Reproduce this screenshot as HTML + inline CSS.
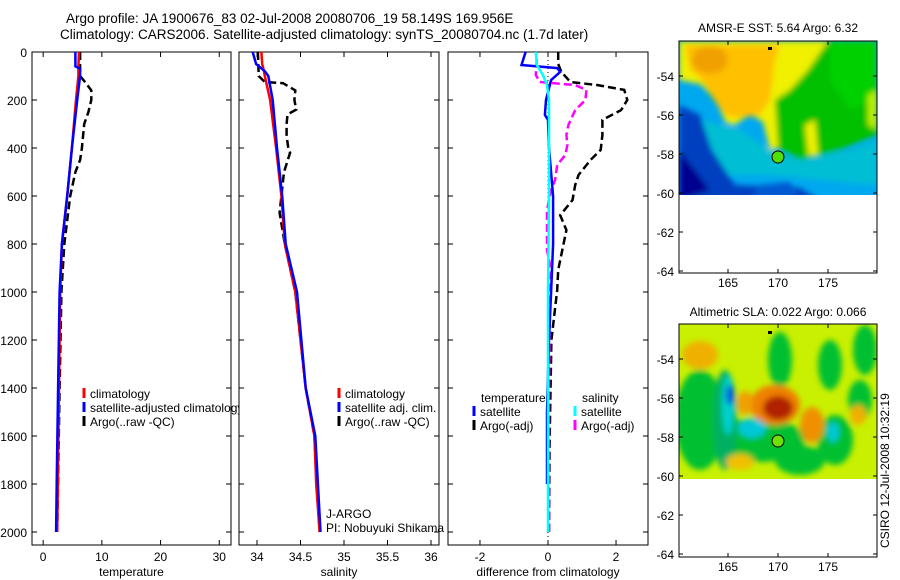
<!DOCTYPE html>
<html><head><meta charset="utf-8"><style>
html,body{margin:0;padding:0;background:#fff;}
svg{display:block;font-family:"Liberation Sans",sans-serif;}
text{fill:#000;}
</style></head><body>
<svg id="chart" width="900" height="580" viewBox="0 0 900 580" xmlns="http://www.w3.org/2000/svg">
<defs>
<filter id="bl" x="-20%" y="-20%" width="140%" height="140%"><feGaussianBlur stdDeviation="3"/></filter>
<clipPath id="c1"><rect x="679" y="41" width="198" height="154"/></clipPath>
<clipPath id="c2"><rect x="679" y="324" width="198" height="155"/></clipPath>
</defs>
<text x="66" y="23" font-size="13.5">Argo profile: JA 1900676_83 02-Jul-2008 20080706_19 58.149S 169.956E</text>
<text x="60" y="39" font-size="13.5">Climatology: CARS2006. Satellite-adjusted climatology: synTS_20080704.nc (1.7d later)</text>

<g>
<text x="778" y="32" font-size="12" text-anchor="middle">AMSR-E SST: 5.64 Argo: 6.32</text>
<g clip-path="url(#c1)">
<rect x="679" y="41" width="198" height="154" fill="#00a8f0"/>
<g filter="url(#bl)">
<polygon fill="#00c8c8" points="700,120 740,130 770,150 800,160 850,150 877,140 877,185 820,180 770,175 720,175" opacity="0.7"/>
<polygon fill="#0040c0" points="679,105 700,115 712,150 735,185 800,188 820,200 679,200"/>
<polygon fill="#000090" points="679,150 695,170 710,190 679,200"/>
<polygon fill="#0058d0" points="760,185 790,182 800,200 750,200"/>
<polygon fill="#00c000" points="679,75 700,80 712,98 730,122 748,112 768,115 778,148 800,160 840,150 877,135 877,41 820,41 800,70 785,90"/>
<polygon fill="#f0f000" points="679,41 828,41 808,70 790,90 775,100 778,148 770,150 763,122 750,114 735,125 726,123 715,98 700,84 679,80"/>
<polygon fill="#ffc000" points="685,45 780,45 775,60 770,100 760,115 735,118 725,115 712,95 700,78 690,70"/>
<ellipse cx="710" cy="60" rx="18" ry="14" fill="#f0a000"/>
<polygon fill="#f0f000" points="805,125 815,120 818,155 808,155"/>
<polygon fill="#00d000" points="830,41 877,41 877,100 850,110 830,80"/>
<polygon fill="#c0f000" points="868,95 877,90 877,130 868,125"/>
</g>
</g>
<rect x="679" y="41" width="198" height="232" fill="none" stroke="#000" stroke-width="1"/>
<g id="map1ax"></g>
<circle cx="778" cy="157" r="6" fill="#50e000" stroke="#000" stroke-width="1"/>
<rect x="768" y="47" width="4" height="3" fill="#000"/>
</g>

<g>
<text x="778" y="316" font-size="12" text-anchor="middle">Altimetric SLA: 0.022 Argo: 0.066</text>
<g clip-path="url(#c2)">
<rect x="679" y="324" width="198" height="155" fill="#c8f000"/>
<g filter="url(#bl)">
<ellipse cx="700" cy="420" rx="25" ry="50" fill="#00c030"/>
<ellipse cx="780" cy="360" rx="12" ry="28" fill="#00c030"/>
<ellipse cx="830" cy="365" rx="12" ry="25" fill="#00c030"/>
<ellipse cx="865" cy="350" rx="12" ry="25" fill="#00c030"/>
<ellipse cx="860" cy="400" rx="12" ry="20" fill="#00c030"/>
<ellipse cx="760" cy="440" rx="45" ry="22" fill="#00c030"/>
<ellipse cx="800" cy="460" rx="25" ry="15" fill="#00c030"/>
<ellipse cx="835" cy="440" rx="18" ry="25" fill="#00c030"/>
<ellipse cx="725" cy="420" rx="12" ry="50" fill="#00b060"/>
<ellipse cx="728" cy="405" rx="6" ry="30" fill="#00d0d0"/>
<ellipse cx="730" cy="395" rx="4" ry="10" fill="#0050e0"/>
<ellipse cx="752" cy="428" rx="14" ry="10" fill="#00c8d8"/>
<ellipse cx="833" cy="432" rx="6" ry="10" fill="#00c8d8"/>
<ellipse cx="775" cy="405" rx="25" ry="20" fill="#f08000"/>
<ellipse cx="778" cy="408" rx="15" ry="12" fill="#b02000"/>
<ellipse cx="812" cy="425" rx="12" ry="18" fill="#f09000"/>
<ellipse cx="745" cy="403" rx="8" ry="12" fill="#f0a000"/>
<ellipse cx="700" cy="355" rx="18" ry="14" fill="#f0b000"/>
<ellipse cx="858" cy="415" rx="8" ry="10" fill="#f0b000"/>
<ellipse cx="740" cy="462" rx="14" ry="8" fill="#f0c000"/>
</g>
</g>
<rect x="679" y="324" width="198" height="233" fill="none" stroke="#000" stroke-width="1"/>
<g id="map2ax"></g>
<circle cx="778" cy="441" r="6" fill="#70e000" stroke="#000" stroke-width="1"/>
<rect x="768" y="331" width="4" height="3" fill="#000"/>
</g>
<text transform="translate(889,548) rotate(-90)" font-size="12">CSIRO 12-Jul-2008 10:32:19</text>

<g id="p1"></g><g id="p2"></g><g id="p3"></g>
</svg>
<script>
// depth levels (m) per series
const tDepth = [0,60,70,100,200,400,600,800,1000,1400,1800,2000];
const tClim = [6.1,6.0,6.0,6.0,5.6,4.9,4.1,3.2,2.9,2.7,2.5,2.4];
const tSat = [5.5,5.5,6.3,6.3,5.8,4.9,4.1,3.2,2.8,2.55,2.3,2.2];
const argoDepth = [0,100,130,160,200,250,300,400,450,500,600,800,1000,1400,2000];
const tArgo = [6.3,6.3,7.3,8.2,8.2,7.7,7.0,6.6,6.3,5.5,4.6,3.6,3.1,2.8,2.4];
const sDepth = [0,50,80,100,200,400,600,800,1000,1400,1600,1800,2000];
const sClim = [34.05,34.06,34.08,34.09,34.15,34.22,34.28,34.32,34.44,34.56,34.66,34.68,34.72];
const sSat = [33.95,33.99,34.09,34.13,34.18,34.23,34.29,34.33,34.46,34.56,34.67,34.70,34.73];
const sArgoDepth = [0,100,125,130,160,200,240,260,300,350,400,420,500,600,670,800,1000,1400,1600,2000];
const sArgo = [34.01,34.02,34.09,34.30,34.44,34.43,34.45,34.35,34.34,34.34,34.36,34.38,34.31,34.28,34.26,34.32,34.44,34.56,34.66,34.72];
const dDepth = [0,54,67,83,117,200,262,283,400,600,800,1000,1200,1500,1800];
const dTSat = [-0.66,-0.78,0.27,0.36,0.09,-0.06,-0.09,0,0.03,0.15,0.15,0.09,0.03,-0.03,-0.03];
const dArgoDepth = [0,50,83,125,138,158,200,242,283,346,408,450,512,554,617,680,742,825,908,992,1200,1600,2000];
const dTArgo = [0.3,0.3,0.39,0.66,1.46,2.24,2.33,2.15,1.6,1.6,1.55,1.25,0.9,0.8,0.72,0.36,0.54,0.42,0.3,0.27,0.1,0.05,0.03];
const dSSatDepth = [0,54,96,138,200,600,1000,1500,2000];
const dSSat = [-0.36,-0.33,-0.15,-0.03,0.03,0.03,0.0,0.0,0.0];
const dSArgoDepth = [30,96,125,138,158,200,242,304,346,387,429,471,533,575,658,742,825,908,1033,1400,2000];
const dSArgo = [-0.33,-0.36,-0.24,0.8,1.13,1.1,0.8,0.6,0.54,0.57,0.51,0.27,0.21,0.09,-0.03,-0.03,-0.03,0.09,0.06,0.03,0.03];
const depthTicks = [0,200,400,600,800,1000,1200,1400,1600,1800,2000];
const tTicks = [0,10,20,30];
const sTicks = [34,34.5,35,35.5,36];
const sTickLabels = ['34','34.5','35','35.5','36'];
const dTicks = [-2,0,2];
const latTicks = [-54,-56,-58,-60,-62,-64];
const lonTicks = [165,170,175];

const NS='http://www.w3.org/2000/svg';
const Y0=52, Y1=545;
const yD = d => 52 + d*0.24;
function mk(tag, parent, attrs){const e=document.createElementNS(NS,tag);for(const k in attrs)e.setAttribute(k,attrs[k]);parent.appendChild(e);return e;}

function panel(gid, name, x0, x1, vmin, vmax, ticks, labels, xlabel, showY){
  const g=document.getElementById(gid);
  
  
  const xs = v => x0 + (v-vmin)/(vmax-vmin)*(x1-x0);
  const bg = mk('rect', g, {x:x0,y:Y0,width:x1-x0,height:Y1-Y0,fill:'#fff',stroke:'#000','stroke-width':1});
  
  
  depthTicks.forEach(d=>{
    const y=yD(d);
    mk('line',g,{x1:x0,x2:x0+5,y1:y,y2:y,stroke:'#000'});
    mk('line',g,{x1:x1-5,x2:x1,y1:y,y2:y,stroke:'#000'});
    if(showY){const t=mk('text',g,{x:x0-5,y:y+5,'font-size':12,'text-anchor':'end'});t.textContent=d;
      
      }
  });
  ticks.forEach((v,i)=>{
    const x=xs(v);
    mk('line',g,{x1:x,x2:x,y1:Y0,y2:Y0+5,stroke:'#000'});
    mk('line',g,{x1:x,x2:x,y1:Y1-5,y2:Y1,stroke:'#000'});
    const t=mk('text',g,{x:x,y:561,'font-size':12,'text-anchor':'middle'});t.textContent=labels[i];
    
    
  });
  const xl=mk('text',g,{x:(x0+x1)/2,y:576,'font-size':12,'text-anchor':'middle'});xl.textContent=xlabel;
  
  
  return {g,xs};
}
function line(P, depths, vals, color, dash, name){
  const pts=depths.map((d,i)=>P.xs(vals[i]).toFixed(1)+','+yD(d).toFixed(1)).join(' ');
  const a={points:pts,fill:'none',stroke:color,'stroke-width':2.5};
  if(dash)a['stroke-dasharray']=dash;
  const e=mk('polyline',P.g,a);
  
  
}
function legend(g, x, y, color, label, name){
  mk('line',g,{x1:x,x2:x,y1:y-10,y2:y,stroke:color,'stroke-width':3});
  const t=mk('text',g,{x:x+6,y:y,'font-size':12});t.textContent=label;
  
  
}

const P1=panel('p1','temperature-panel',32,231,-1.9,32,tTicks,tTicks.map(String),'temperature',true);
line(P1,argoDepth,tArgo,'#000','8,4','temp-argo-line');
line(P1,tDepth,tClim,'#f00',null,'temp-climatology-line');
line(P1,tDepth,tSat,'#00f',null,'temp-satellite-line');
legend(P1.g,84,398,'#f00','climatology','legend-climatology');
legend(P1.g,84,412,'#00f','satellite-adjusted climatology','legend-satellite-adjusted');
legend(P1.g,84,426,'#000','Argo(..raw -QC)','legend-argo');

const P2=panel('p2','salinity-panel',239,439,33.793,36.092,sTicks,sTickLabels,'salinity',false);
line(P2,sArgoDepth,sArgo,'#000','8,4','sal-argo-line');
line(P2,sDepth,sClim,'#f00',null,'sal-climatology-line');
line(P2,sDepth,sSat,'#00f',null,'sal-satellite-line');
legend(P2.g,339,398,'#f00','climatology','legend-climatology');
legend(P2.g,339,412,'#00f','satellite adj. clim.','legend-satellite-adj');
legend(P2.g,339,426,'#000','Argo(..raw -QC)','legend-argo');
const j1=mk('text',P2.g,{x:326,y:518,'font-size':12});j1.textContent='J-ARGO';


const j2=mk('text',P2.g,{x:326,y:532,'font-size':12});j2.textContent='PI: Nobuyuki Shikama';



const P3=panel('p3','difference-panel',448,648,-2.94,2.94,dTicks,dTicks.map(String),'difference from climatology',false);
const z=P3.xs(0);
const zl=mk('line',P3.g,{x1:z,x2:z,y1:Y0,y2:Y1,stroke:'#000','stroke-dasharray':'1,3'});


line(P3,dArgoDepth,dTArgo,'#000','8,4','diff-temp-argo-line');
line(P3,dSArgoDepth,dSArgo,'#f0f','8,4','diff-sal-argo-line');
line(P3,dDepth,dTSat,'#00f',null,'diff-temp-satellite-line');
line(P3,dSSatDepth,dSSat,'#0ff',null,'diff-sal-satellite-line');
const lt=mk('text',P3.g,{x:481,y:402,'font-size':12});lt.textContent='temperature';


const ls=mk('text',P3.g,{x:582,y:402,'font-size':12});ls.textContent='salinity';


legend(P3.g,474,416,'#00f','satellite','legend-temp-satellite');
legend(P3.g,474,430,'#000','Argo(-adj)','legend-temp-argo');
legend(P3.g,575,416,'#0ff','satellite','legend-sal-satellite');
legend(P3.g,575,430,'#f0f','Argo(-adj)','legend-sal-argo');

function mapAxes(id, top, bottom){
  const g=document.getElementById(id);
  const ly = l => top + 35 + (-54 - l)*19.5;
  const lx = l => 679 + (l-160.1)*10;
  latTicks.forEach(l=>{
    const y=ly(l);
    mk('line',g,{x1:679,x2:683,y1:y,y2:y,stroke:'#000'});
    mk('line',g,{x1:873,x2:877,y1:y,y2:y,stroke:'#000'});
    const t=mk('text',g,{x:674,y:y+5,'font-size':12,'text-anchor':'end'});t.textContent=l;
    
    
  });
  lonTicks.forEach(l=>{
    const x=lx(l);
    mk('line',g,{x1:x,x2:x,y1:top,y2:top+4,stroke:'#000'});
    mk('line',g,{x1:x,x2:x,y1:bottom-4,y2:bottom,stroke:'#000'});
    const t=mk('text',g,{x:x,y:bottom+14,'font-size':12,'text-anchor':'middle'});t.textContent=l;
    
    
  });
}
mapAxes('map1ax',41,273);
mapAxes('map2ax',324,557);
</script>
</body></html>
